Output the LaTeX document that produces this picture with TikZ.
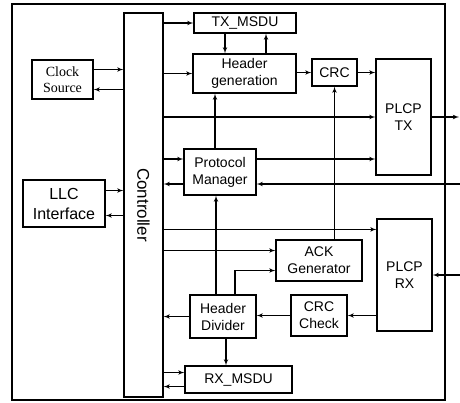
\documentclass[tikz,border=0pt]{standalone}
\usepackage{graphicx}
\usepackage{fontspec}
\setmainfont{Liberation Sans}
\newfontfamily\clockfont{Liberation Serif}
\usepackage{tikz}
\usetikzlibrary{arrows, positioning}

\begin{document}
\begin{tikzpicture}[x=1pt, y=-1pt, line width=1.1pt, font=\fontsize{14}{17}\selectfont]
        \tikzstyle{block} = [rectangle, draw, align=center, inner sep=0pt]
        \tikzstyle{line} = [draw, -latex']

        \useasboundingbox (0,0) rectangle (460,402);
        \draw (12,4) rectangle (445,400);

        \node [block, minimum width=39, minimum height=384] (ctrl) at (143.5,205) {\rotatebox{-90}{\fontsize{17}{20}\selectfont Controller}};
        \node [block, minimum width=61, minimum height=39, font=\clockfont\fontsize{14}{16}\selectfont] (clock) at (62.5,79.5) {Clock\\Source};
        \node [block, minimum width=82, minimum height=47, font=\fontsize{16}{20}\selectfont] (llc) at (64,203.5) {LLC\\Interface};

        \node [block, minimum width=102, minimum height=20] (txmsdu) at (245,23) {TX\_MSDU};
        \node [block, minimum width=103, minimum height=39] (hgen) at (244.5,73.5) {Header\\generation};
        \node [block, minimum width=45, minimum height=27] (crc) at (334.5,72.5) {CRC};
        \node [block, minimum width=55, minimum height=116] (ptx) at (403.5,117) {PLCP\\TX};
        \node [block, minimum width=72, minimum height=46] (pm) at (220,172) {Protocol\\Manager};

        \node [block, minimum width=86, minimum height=41] (ack) at (319,260.5) {ACK\\Generator};
        \node [block, minimum width=55, minimum height=112] (prx) at (404.5,275) {PLCP\\RX};
        \node [block, minimum width=56, minimum height=41] (chk) at (319,315.5) {CRC\\Check};
        \node [block, minimum width=66, minimum height=43] (hdiv) at (223,316.5) {Header\\Divider};
        \node [block, minimum width=107, minimum height=27] (rxmsdu) at (238.5,379.5) {RX\_MSDU};

        \coordinate (txout) at (459,117);
        \coordinate (pmin) at (460,184);
        \coordinate (rxin) at (460,275);

        % left side
        \path [line] ([yshift=10pt]clock.east) -- ([yshift=10pt]clock.east -| ctrl.west);
        \path [line] ([yshift=-10pt]clock.east -| ctrl.west) -- ([yshift=-10pt]clock.east);
        \path [line] ([yshift=13pt]llc.east) -- ([yshift=13pt]llc.east -| ctrl.west);
        \path [line] ([yshift=-12pt]llc.east -| ctrl.west) -- ([yshift=-12pt]llc.east);

        % transmit path
        \path [line] (ctrl.east |- txmsdu.west) -- (txmsdu.west);
        \path [line] (ctrl.east |- hgen.west) -- (hgen.west);
        \path [line] ([xshift=-20pt]txmsdu.south) -- ([xshift=-20pt]txmsdu.south |- hgen.north);
        \path [line] ([xshift=21pt]txmsdu.south |- hgen.north) -- ([xshift=21pt]txmsdu.south);
        \path [line] (hgen.east |- crc.west) -- (crc.west);
        \path [line] (crc.east) -- (crc.east -| ptx.west);
        \path [line] (ctrl.east |- ptx.west) -- (ptx.west);
        \path [line] (ptx.east) -- (txout);

        % protocol manager
        \path [line] ([yshift=13pt]pm.west -| ctrl.east) -- ([yshift=13pt]pm.west);
        \path [line] ([yshift=-12pt]pm.west) -- ([yshift=-12pt]pm.west -| ctrl.east);
        \path [line] ([yshift=13pt]pm.east) -- ([yshift=13pt]pm.east -| ptx.west);
        \path [line] (pmin) -- (pmin -| pm.east);
        \path [line] ([xshift=-5pt]pm.north) -- ([xshift=-5pt]pm.north |- hgen.south);
        \path [line] ([xshift=-4pt]pm.south |- hdiv.north) -- ([xshift=-4pt]pm.south);

        % receive path
        \path [line] ([yshift=-11pt]prx.north west -| ctrl.east) -- ([yshift=-11pt]prx.north west);
        \path [line] ([yshift=10pt]ack.west -| ctrl.east) -- ([yshift=10pt]ack.west);
        \path [line] ([xshift=12pt]hdiv.north) |- ([yshift=-10pt]ack.west);
        \path [line] (crc.south |- ack.north) -- (crc.south);
        \path [line] (rxin) -- (prx.east);
        \path [line] (chk.east -| prx.west) -- (chk.east);
        \path [line] (chk.west) -- (chk.west -| hdiv.east);
        \path [line] (hdiv.west) -- (hdiv.west -| ctrl.east);
        \path [line] ([xshift=3pt]hdiv.south) -- ([xshift=3pt]hdiv.south |- rxmsdu.north);
        \path [line] ([yshift=7pt]rxmsdu.west -| ctrl.east) -- ([yshift=7pt]rxmsdu.west);
        \path [line] ([yshift=-7pt]rxmsdu.west) -- ([yshift=-7pt]rxmsdu.west -| ctrl.east);
    \end{tikzpicture}
\end{document}
